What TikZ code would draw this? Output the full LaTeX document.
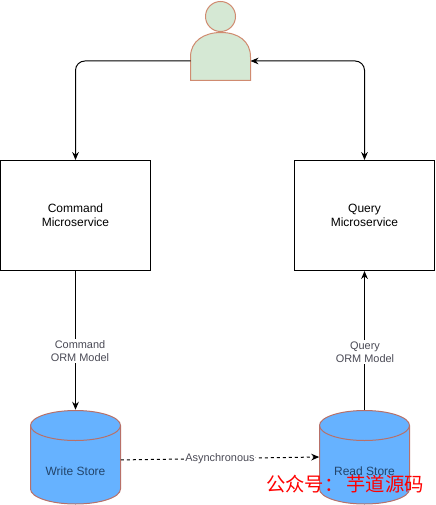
\documentclass[tikz,border=0pt]{standalone}
\usepackage{fontspec}
\setmainfont{Liberation Sans}
\newfontfamily\cjk{Noto Sans CJK SC}
\usetikzlibrary{arrows.meta, calc, positioning}

\definecolor{storeblue}{HTML}{66B2FF}
\definecolor{storeline}{HTML}{B87068}
\definecolor{storetext}{HTML}{23456B}
\definecolor{labeltext}{HTML}{4A4A55}
\definecolor{userfill}{HTML}{D5E8D4}
\definecolor{userline}{HTML}{D08B70}

\tikzset{
    service/.style={draw=black, fill=white, line width=0.75pt, minimum height=82.5pt, align=center, font=\fontsize{9}{10.5}\selectfont},
    store/.style={draw=storeline, fill=storeblue, line width=0.75pt},
    storebox/.style={minimum width=67.5pt, minimum height=70.5pt, inner sep=0pt},
    storename/.style={text=storetext, font=\fontsize{9}{10.5}\selectfont},
    tag/.style={fill=white, inner sep=1pt, align=center, text=labeltext, font=\fontsize{8.2}{9.8}\selectfont},
    link/.style={draw=black, line width=0.75pt, rounded corners=7pt, -{Stealth[length=6pt, width=5pt]}},
}

\begin{document}
\begin{tikzpicture}[x=0.75pt, y=-0.75pt]
    \useasboundingbox (0,0) rectangle (435,505);

    % Person
    \draw[draw=userline, fill=userfill, line width=0.75pt]
        (190.5,80.5) -- (190.5,57) .. controls (190.5,41) and (204,32.5) .. (221,32.5)
        .. controls (238,32.5) and (250.5,41) .. (250.5,57) -- (250.5,80.5) -- cycle;
    \node[circle, draw=userline, fill=userfill, line width=0.75pt, minimum size=22.5pt, inner sep=0pt] (head) at (220.5,16.5) {};
    \coordinate (userleft) at (190.5,61);
    \coordinate (userright) at (250.5,61);

    % Services
    \node[service, minimum width=112.5pt] (command) at (75.5,215.5) {Command\\Microservice};
    \node[service, minimum width=105pt] (query) at (364.5,215.5) {Query\\Microservice};

    % Stores
    \foreach \x/\id/\title in {75.5/write/Write Store, 364.5/read/Read Store} {
        \draw[store] (\x-45,425.5) -- (\x-45,489) arc[start angle=180, end angle=360, x radius=33.75pt, y radius=11.25pt]
            -- (\x+45,425.5) arc[start angle=0, end angle=180, x radius=33.75pt, y radius=11.25pt] -- cycle;
        \draw[store, fill=none] (\x-45,425.5) arc[start angle=180, end angle=360, x radius=33.75pt, y radius=11.25pt];
        \node[storebox] (\id) at (\x,457) {};
        \node[storename] (\id name) at (\x,471) {\title};
    }

    % Connectors
    \draw[link] (userleft) -| (command.north);
    \draw[link, {Stealth[length=6pt, width=5pt]}-{Stealth[length=6pt, width=5pt]}] (userright) -| (query.north);
    \draw[link] (command.south) -- (write.north);
    \node[tag] (commandorm) at (80,351) {Command\\ORM Model};
    \draw[link] (read.north) -- (query.south);
    \node[tag] (queryorm) at (365,352) {Query\\ORM Model};
    \draw[link, dash pattern=on 2.25pt off 2.25pt] ([yshift=-2.2pt]write.east) -- node[tag, pos=0.5] (async) {Asynchronous} (read.west);

    % Watermark
    \node[text=red, font=\cjk\fontsize{14.5}{16}\selectfont, inner sep=0pt] (mark) at (345,484) {公众号：\,芋道源码};
\end{tikzpicture}
\end{document}
